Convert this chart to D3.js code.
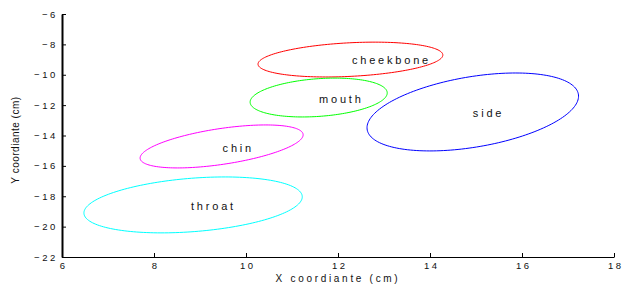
<!DOCTYPE html>
<html>
<head>
<meta charset="utf-8">
<script src="https://cdn.jsdelivr.net/npm/d3@7"></script>
<style>
  body { margin: 0; background: #fff; }
  svg text { font-family: 'Liberation Sans', Arial, Helvetica, sans-serif; fill: #111; }
</style>
</head>
<body>
<svg id="chart" width="624" height="287"></svg>
<script>
// regions (ellipse centre, semi axes and tilt in data units)
var names = ['cheekbone', 'mouth', 'side', 'chin', 'throat']
var centerX = [12.27, 11.58, 14.93, 9.47, 8.85]
var centerY = [-9.0, -11.5, -12.45, -14.72, -18.57]
var semiA = [2.04, 1.57, 2.90, 2.01, 2.49]
var semiB = [1.09, 1.18, 1.86, 1.05, 1.68]
var tiltDeg = [11.9, 28.5, 52.6, 33.6, 24.2]
var colors = ['#ff0000', '#00ff00', '#0000ff', '#ff00ff', '#00ffff']
var labelX = [13.13, 12.04, 15.24, 9.8, 9.26]
var labelY = [-9.05, -11.6, -12.55, -14.85, -18.65]

var xTicks = [6, 8, 10, 12, 14, 16, 18]
var yTicks = [-22, -20, -18, -16, -14, -12, -10, -8, -6]

var svg = d3.select('#chart')

var x = d3.scaleLinear().domain([6, 18]).range([62, 614])
var y = d3.scaleLinear().domain([-22, -6]).range([257, 14])

var fmt = (d) => d < 0 ? '\u2212' + Math.abs(d) : String(d)

// x axis
var gx = svg.append('g')
  .attr('transform', 'translate(0,257)')
  .call(d3.axisBottom(x).tickValues(xTicks).tickFormat(fmt)
    .tickSizeInner(-4).tickSizeOuter(0).tickPadding(5))
gx.select('.domain').attr('stroke', '#000').attr('stroke-width', 1.2)
gx.selectAll('.tick line').attr('stroke', '#000')
gx.selectAll('.tick text')
  .attr('font-size', 9.5).attr('letter-spacing', '2.6px').attr('dx', '1.3px')
  .style('font-family', "'Liberation Sans', Arial, sans-serif")

// y axis
var gy = svg.append('g')
  .attr('transform', 'translate(62,0)')
  .call(d3.axisLeft(y).tickValues(yTicks).tickFormat(fmt)
    .tickSizeInner(-4).tickSizeOuter(0).tickPadding(4))
gy.select('.domain').attr('stroke', '#000').attr('stroke-width', 2)
gy.selectAll('.tick line').attr('stroke', '#000')
gy.selectAll('.tick text')
  .attr('font-size', 9.5).attr('letter-spacing', '2.6px')
  .style('font-family', "'Liberation Sans', Arial, sans-serif")

// axis titles
svg.append('text')
  .attr('x', 338).attr('y', 282)
  .attr('text-anchor', 'middle')
  .attr('font-size', 10)
  .attr('letter-spacing', '2.7px')
  .text('X coordiante (cm)')

svg.append('text')
  .attr('transform', 'translate(19,140) rotate(-90)')
  .attr('text-anchor', 'middle')
  .attr('font-size', 10)
  .attr('letter-spacing', '0.5px')
  .text('Y coordiante (cm)')

// ellipses
var steps = d3.range(0, 2 * Math.PI + 0.001, Math.PI / 90)
var line = d3.line().x((p) => x(p[0])).y((p) => y(p[1]))

names.forEach(function(name, i) {
  var th = tiltDeg[i] * Math.PI / 180
  var pts = steps.map(function(t) {
    var ca = semiA[i] * Math.cos(t)
    var sb = semiB[i] * Math.sin(t)
    return [centerX[i] + ca * Math.cos(th) - sb * Math.sin(th),
            centerY[i] + ca * Math.sin(th) + sb * Math.cos(th)]
  })
  svg.append('path')
    .datum(pts)
    .attr('d', line)
    .attr('fill', 'none')
    .attr('stroke', colors[i])
    .attr('stroke-width', 1)

  svg.append('text')
    .attr('x', x(labelX[i]))
    .attr('y', y(labelY[i]))
    .attr('dy', '0.35em')
    .attr('dx', '1.5px')
    .attr('text-anchor', 'middle')
    .attr('font-size', 11)
    .attr('letter-spacing', '2.8px')
    .text(name)
})
</script>
</body>
</html>
